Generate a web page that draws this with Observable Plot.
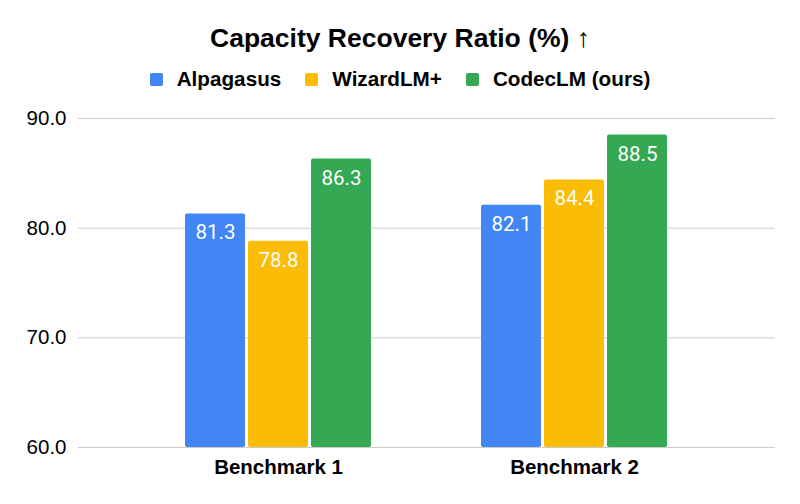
<!DOCTYPE html>
<html><head><meta charset="utf-8">
<script src="https://cdn.jsdelivr.net/npm/d3@7"></script>
<script src="https://cdn.jsdelivr.net/npm/@observablehq/plot@0.6"></script>
<style>
body{margin:0;background:#fff;font-family:"Liberation Sans",Arial,sans-serif;color:#000;width:800px;height:504px;position:relative}
#title{position:absolute;left:0;width:800px;text-align:center;font-weight:bold;font-size:26.5px;line-height:27px;top:25px}
#legend{position:absolute;left:0;top:67px;width:800px;display:flex;justify-content:center;gap:24px;font-weight:bold;font-size:20.7px;line-height:24px}
#legend .item{display:flex;align-items:center}
#legend .sw{width:13px;height:13px;border-radius:2px;margin-right:14px}
.layer{position:absolute;top:100px;left:0}
</style></head><body>
<div id="title">Capacity Recovery Ratio (%) ↑</div>
<div id="legend"></div>
<div id="grid" class="layer"></div>
<div id="chart" class="layer"></div>
<script>
const benchmarks = ["Benchmark 1", "Benchmark 2"];
const series = ["Alpagasus", "WizardLM+", "CodecLM (ours)"];
const colors = ["#4285F4", "#FBBC04", "#34A853"];
const alpagasus = [81.3, 82.1];
const wizardlm = [78.8, 84.4];
const codeclm = [86.3, 88.5];
const yTicks = [60, 70, 80, 90];

const values = [alpagasus, wizardlm, codeclm];
const data = [];
series.forEach((s, i) => benchmarks.forEach((b, j) => data.push({benchmark: b, series: s, value: values[i][j]})));
const base = yTicks[0];

const legend = document.getElementById("legend");
series.forEach((s, i) => {
  const it = document.createElement("div"); it.className = "item";
  const sw = document.createElement("span"); sw.className = "sw"; sw.style.background = colors[i];
  const lb = document.createElement("span"); lb.textContent = s;
  it.appendChild(sw); it.appendChild(lb); legend.appendChild(it);
});

const common = {
  width: 800, height: 404,
  marginLeft: 78, marginRight: 25, marginTop: 18, marginBottom: 57,
  y: {domain: [60, 90], label: null}
};
const font = '"Liberation Sans", Arial, sans-serif';

// Background layer: continuous horizontal gridlines and y axis
const grid = Plot.plot({
  ...common,
  style: {fontFamily: font, fontSize: "20.5px", color: "#000", background: "#fff"},
  marks: [
    Plot.ruleY(yTicks, {stroke: "#cccccc", strokeWidth: 1}),
    Plot.axisY({ticks: yTicks, tickFormat: d => d.toFixed(1), tickSize: 0, tickPadding: 12, fontSize: 20.5, label: null})
  ]
});
document.getElementById("grid").appendChild(grid);

// Foreground layer: grouped bars
const chart = Plot.plot({
  ...common,
  style: {fontFamily: font, fontSize: "20.5px", color: "#000", background: "transparent"},
  fx: {domain: benchmarks, paddingInner: 0.364, paddingOuter: 0.3555, label: null},
  x: {domain: series, paddingInner: 0.05, paddingOuter: 0, axis: null},
  y: {domain: [60, 90], label: null, axis: null},
  color: {domain: series, range: colors},
  marks: [
    Plot.axisFx({anchor: "bottom", tickSize: 0, tickPadding: 12, fontSize: 20.5, fontWeight: "bold", label: null}),
    Plot.barY(data, {fx: "benchmark", x: "series", y1: base, y2: "value", fill: "series", rx: 2}),
    Plot.text(data, {fx: "benchmark", x: "series", y: "value", text: d => d.value.toFixed(1), dy: 19, fill: "white", fontSize: 20.5, fontFamily: "Roboto"})
  ]
});
document.getElementById("chart").appendChild(chart);
</script>
</body></html>
